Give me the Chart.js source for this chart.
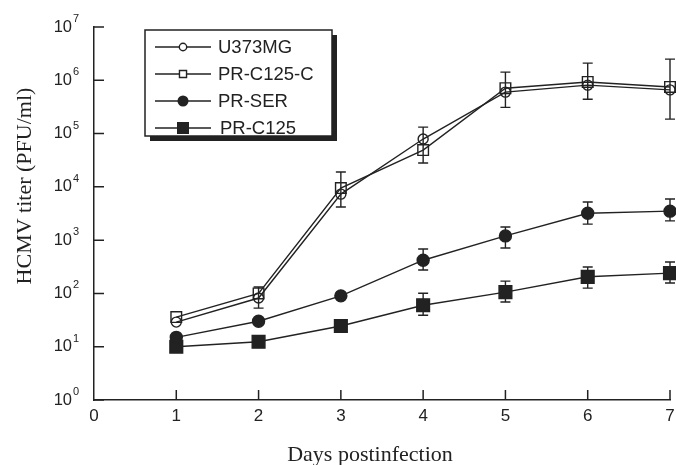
<!DOCTYPE html>
<html>
<head>
<meta charset="utf-8">
<title>HCMV titer</title>
<script src="https://cdn.jsdelivr.net/npm/chart.js@4/dist/chart.umd.min.js"></script>
<style>
  html, body { margin: 0; padding: 0; background: #fff; }
  canvas { display: block; }
</style>
</head>
<body>
<canvas id="titerChart" width="676" height="465"></canvas>
<script>
// valores (PFU/ml)
const days = [1, 2, 3, 4, 5, 6, 7];
const seriesNames = ['U373MG', 'PR-C125-C', 'PR-SER', 'PR-C125'];

const u373mg   = [29, 82, 7300, 79000, 600000, 810000, 660000];
const prC125C  = [36, 100, 9500, 49000, 710000, 930000, 750000];
const prSER    = [15, 30, 90, 420, 1200, 3200, 3500];
const prC125   = [10, 12.4, 24.5, 60, 106, 205, 240];

// barras de erro (mínimo / máximo)
const u373mgLow  = [null, 53, 4200, 28000, 310000, 440000, 187000];
const u373mgHigh = [null, 132, 19000, 132000, 1420000, 2100000, 2500000];
const prSERLow   = [null, null, null, 275, 710, 2000, 2300];
const prSERHigh  = [null, null, null, 680, 1770, 5200, 5900];
const prC125Low  = [null, null, null, 39, 69, 126, 157];
const prC125High = [null, null, null, 101, 170, 313, 390];

const xTicks = [0, 1, 2, 3, 4, 5, 6, 7];
const yExponents = [0, 1, 2, 3, 4, 5, 6, 7];
const xTitle = 'Days postinfection';
const yTitle = 'HCMV titer (PFU/ml)';

const INK = '#222';
const SANS = '"Liberation Sans", Arial, sans-serif';
const SERIF = '"Liberation Serif", "Times New Roman", serif';

function toPoints(values) {
  return days.map(function(d, i) { return { x: d, y: values[i] }; });
}

function makeDataset(label, values, style, filled, radius, low, high) {
  return {
    label: label,
    data: toPoints(values),
    borderColor: INK,
    borderWidth: 1.4,
    tension: 0,
    fill: false,
    clip: false,
    pointStyle: style,
    pointRadius: radius,
    pointHoverRadius: radius,
    pointBorderColor: INK,
    pointBorderWidth: 1.4,
    pointBackgroundColor: filled ? INK : 'rgba(0,0,0,0)',
    errLow: low,
    errHigh: high
  };
}

// desenha barras de erro, ticks internos, rótulos 10^n, títulos e legenda
const figureExtras = {
  id: 'figureExtras',
  beforeDatasetsDraw(chart) {
    const ctx = chart.ctx;
    const xs = chart.scales.x, ys = chart.scales.y;
    ctx.save();
    ctx.strokeStyle = INK;
    ctx.lineWidth = 1.4;
    chart.data.datasets.forEach(function(ds) {
      if (!ds.errLow) return;
      days.forEach(function(d, i) {
        if (ds.errLow[i] == null) return;
        const x = xs.getPixelForValue(d);
        const y1 = ys.getPixelForValue(ds.errLow[i]);
        const y2 = ys.getPixelForValue(ds.errHigh[i]);
        ctx.beginPath();
        ctx.moveTo(x, y1); ctx.lineTo(x, y2);
        ctx.moveTo(x - 5, y1); ctx.lineTo(x + 5, y1);
        ctx.moveTo(x - 5, y2); ctx.lineTo(x + 5, y2);
        ctx.stroke();
      });
    });
    ctx.restore();
  },
  afterDraw(chart) {
    const ctx = chart.ctx;
    const xs = chart.scales.x, ys = chart.scales.y;
    const area = chart.chartArea;
    ctx.save();
    ctx.strokeStyle = INK;
    ctx.fillStyle = INK;
    ctx.lineWidth = 1.5;

    // ticks para dentro
    ctx.beginPath();
    yExponents.forEach(function(e) {
      const y = ys.getPixelForValue(Math.pow(10, e));
      ctx.moveTo(area.left, y); ctx.lineTo(area.left + 10, y);
    });
    xTicks.forEach(function(t) {
      if (t === 0) return;
      const x = xs.getPixelForValue(t);
      ctx.moveTo(x, area.bottom); ctx.lineTo(x, area.bottom - 10);
    });
    ctx.stroke();

    // rótulos do eixo y
    yExponents.forEach(function(e) {
      const y = ys.getPixelForValue(Math.pow(10, e));
      ctx.font = '16.5px ' + SANS;
      ctx.textAlign = 'right';
      ctx.textBaseline = 'middle';
      ctx.fillText('10', area.left - 22, y);
      ctx.font = '11px ' + SANS;
      ctx.textAlign = 'left';
      ctx.fillText(String(e), area.left - 21, y - 8);
    });

    // títulos dos eixos
    ctx.font = '22px ' + SERIF;
    ctx.textAlign = 'center';
    ctx.textBaseline = 'alphabetic';
    ctx.fillText(xTitle, 370, 461);
    ctx.save();
    ctx.translate(31, 186);
    ctx.rotate(-Math.PI / 2);
    ctx.fillText(yTitle, 0, 0);
    ctx.restore();

    // legenda com sombra
    const bx = 145, by = 30, bw = 187, bh = 106;
    ctx.fillStyle = INK;
    ctx.fillRect(bx + 5, by + 5, bw, bh);
    ctx.fillStyle = '#fff';
    ctx.fillRect(bx, by, bw, bh);
    ctx.strokeRect(bx, by, bw, bh);

    const legendRadius = [3.7, 5, 5.5, 8.5];
    chart.data.datasets.forEach(function(ds, i) {
      const y = 47 + i * 27;
      ctx.strokeStyle = INK;
      ctx.lineWidth = 1.4;
      ctx.beginPath();
      ctx.moveTo(155, y); ctx.lineTo(211, y);
      ctx.stroke();
      const r = legendRadius[i];
      const cx = 183;
      ctx.beginPath();
      if (ds.pointStyle === 'circle') {
        ctx.arc(cx, y, r, 0, Math.PI * 2);
      } else {
        const h = r * Math.SQRT1_2;
        ctx.rect(cx - h, y - h, 2 * h, 2 * h);
      }
      if (ds.pointBackgroundColor === INK) {
        ctx.fillStyle = INK; ctx.fill();
      } else {
        ctx.fillStyle = '#fff'; ctx.fill(); ctx.stroke();
      }
      ctx.fillStyle = INK;
      ctx.font = '18.5px ' + SANS;
      ctx.textAlign = 'left';
      ctx.textBaseline = 'middle';
      ctx.fillText(ds.label, i === 3 ? 220 : 218, y + 1);
    });
    ctx.restore();
  }
};

new Chart(document.getElementById('titerChart'), {
  type: 'line',
  data: {
    datasets: [
      makeDataset(seriesNames[0], u373mg, 'circle', false, 5, u373mgLow, u373mgHigh),
      makeDataset(seriesNames[1], prC125C, 'rect', false, 7.5, null, null),
      makeDataset(seriesNames[2], prSER, 'circle', true, 6, prSERLow, prSERHigh),
      makeDataset(seriesNames[3], prC125, 'rect', true, 9, prC125Low, prC125High)
    ]
  },
  options: {
    responsive: false,
    animation: false,
    layout: { autoPadding: false, padding: { left: 0, top: 27, right: 6, bottom: 0 } },
    plugins: {
      legend: { display: false },
      tooltip: { enabled: false }
    },
    scales: {
      x: {
        type: 'linear',
        min: 0,
        max: 7,
        afterBuildTicks: function(scale) {
          scale.ticks = xTicks.map(function(v) { return { value: v }; });
        },
        afterFit: function(scale) {
          scale.height = 65;
          scale.paddingLeft = 0;
          scale.paddingRight = 0;
        },
        grid: { display: false, drawTicks: false },
        border: { display: true, color: INK, width: 1.5 },
        ticks: {
          color: INK,
          padding: 6,
          font: { family: SANS, size: 17 },
          maxRotation: 0
        }
      },
      y: {
        type: 'logarithmic',
        min: 1,
        max: 1e7,
        afterFit: function(scale) {
          scale.width = 94;
          scale.paddingTop = 0;
          scale.paddingBottom = 0;
        },
        grid: { display: false, drawTicks: false },
        border: { display: true, color: INK, width: 1.5 },
        ticks: { display: false }
      }
    }
  },
  plugins: [figureExtras]
});
</script>
</body>
</html>
